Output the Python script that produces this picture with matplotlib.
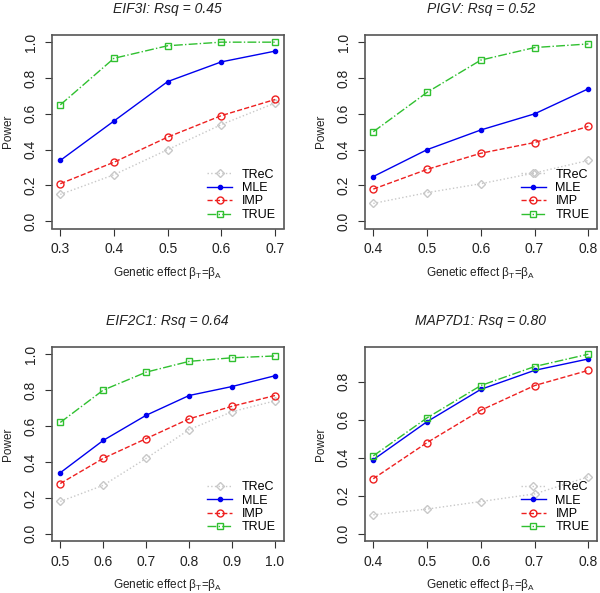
import matplotlib
matplotlib.use("Agg")
import matplotlib.pyplot as plt
import numpy as np

plt.rcParams['font.family'] = ['Liberation Sans', 'DejaVu Sans']
plt.rcParams['mathtext.fontset'] = 'custom'
plt.rcParams['mathtext.rm'] = 'Liberation Sans'
plt.rcParams['mathtext.it'] = 'Liberation Sans:italic'

titles = ["EIF3I: Rsq = 0.45", "PIGV: Rsq = 0.52", "EIF2C1: Rsq = 0.64", "MAP7D1: Rsq = 0.80"]

x1 = [0.3, 0.4, 0.5, 0.6, 0.7]
trec1 = [0.15, 0.26, 0.40, 0.54, 0.66]
mle1 = [0.34, 0.56, 0.78, 0.89, 0.95]
imp1 = [0.21, 0.33, 0.47, 0.59, 0.68]
true1 = [0.65, 0.91, 0.98, 1.00, 1.00]

x2 = [0.4, 0.5, 0.6, 0.7, 0.8]
trec2 = [0.10, 0.16, 0.21, 0.27, 0.34]
mle2 = [0.25, 0.40, 0.51, 0.60, 0.74]
imp2 = [0.18, 0.29, 0.38, 0.44, 0.53]
true2 = [0.50, 0.72, 0.90, 0.97, 0.99]

x3 = [0.5, 0.6, 0.7, 0.8, 0.9, 1.0]
trec3 = [0.18, 0.27, 0.42, 0.58, 0.68, 0.74]
mle3 = [0.34, 0.52, 0.66, 0.77, 0.82, 0.88]
imp3 = [0.28, 0.42, 0.53, 0.64, 0.71, 0.77]
true3 = [0.62, 0.80, 0.90, 0.96, 0.98, 0.99]

x4 = [0.4, 0.5, 0.6, 0.7, 0.8]
trec4 = [0.10, 0.13, 0.17, 0.21, 0.30]
mle4 = [0.39, 0.59, 0.76, 0.86, 0.92]
imp4 = [0.29, 0.48, 0.65, 0.78, 0.86]
true4 = [0.41, 0.61, 0.78, 0.88, 0.945]

panels = [
    (x1, trec1, mle1, imp1, true1),
    (x2, trec2, mle2, imp2, true2),
    (x3, trec3, mle3, imp3, true3),
    (x4, trec4, mle4, imp4, true4),
]

W, H = 600, 593
fig = plt.figure(figsize=(W / 100, H / 100), dpi=100)

# pixel boxes: (left, top, right, bottom)
boxes = [(51.7, 35.0, 283.6, 228.5), (364.7, 35.0, 597.0, 228.5),
         (51.7, 347.0, 283.6, 541.0), (364.7, 347.0, 597.0, 541.0)]

c_trec = '#C8C8C8'
c_mle = '#0000EE'
c_imp = '#EE2020'
c_true = '#30C030'

for i, (x, trec, mle, imp, tru) in enumerate(panels):
    l, t, r, b = boxes[i]
    ax = fig.add_axes([l / W, 1 - b / H, (r - l) / W, (b - t) / H])
    ax.plot(x, trec, color=c_trec, ls=':', lw=1, marker='D', ms=4.5, mfc='none', mec=c_trec, mew=1, label='TReC')
    ax.plot(x, mle, color=c_mle, ls='-', lw=1, marker='o', ms=3, mfc=c_mle, mec=c_mle, label='MLE')
    ax.plot(x, imp, color=c_imp, ls='--', lw=1, marker='o', ms=5, mfc='none', mec=c_imp, mew=1, label='IMP')
    ax.plot(x, tru, color=c_true, ls='-.', lw=1, marker='s', ms=4.5, mfc='none', mec=c_true, mew=1, label='TRUE')
    xmin, xmax = min(x), max(x)
    dx = (xmax - xmin) * 0.04
    ax.set_xlim(xmin - dx, xmax + dx)
    ymax = 1.0 if i < 3 else max(tru)
    dy = ymax * 0.04
    ax.set_ylim(-dy, ymax + dy)
    ax.set_xticks(x)
    ax.set_xticklabels(['%.1f' % v for v in x])
    if i < 3:
        yt = [0.0, 0.2, 0.4, 0.6, 0.8, 1.0]
    else:
        yt = [0.0, 0.2, 0.4, 0.6, 0.8]
    ax.set_yticks(yt)
    ax.set_yticklabels(['%.1f' % v for v in yt], rotation=90, va='center')
    ax.tick_params(direction='out', length=5, width=0.8, labelsize=10, colors='#333333', labelcolor='#222222', pad=5)
    for s in ax.spines.values():
        s.set_color('#555555')
        s.set_linewidth(1.2)
    ax.set_title(titles[i], fontstyle='italic', fontsize=10, pad=16, color='#222222')
    ax.set_xlabel(r'Genetic effect $\mathrm{\beta_T}$=$\mathrm{\beta_A}$', fontsize=8.5, labelpad=6, color='#222222')
    ax.set_ylabel('Power', fontsize=8.5, labelpad=7, color='#222222')
    ax.legend(loc='lower right', frameon=False, fontsize=9, handlelength=2.0, handletextpad=0.8,
              labelspacing=0.12, borderaxespad=0.4, borderpad=0.2)

fig.savefig('out.png', dpi=100)
